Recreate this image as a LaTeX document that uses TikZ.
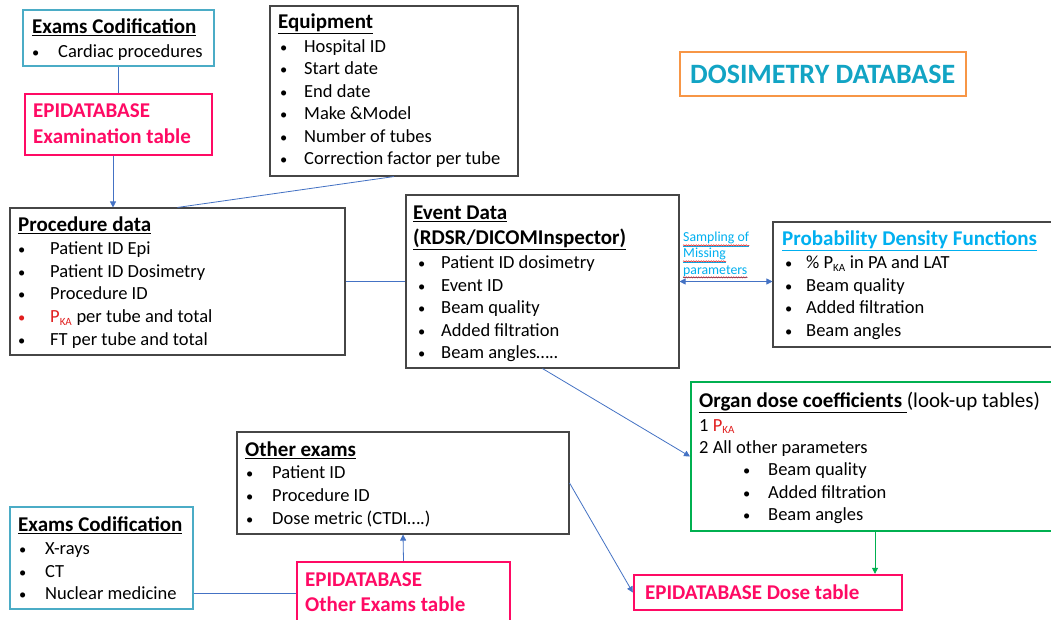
\documentclass[tikz,border=0pt]{standalone}
\usepackage{fontspec}
\setmainfont{Carlito}
\usetikzlibrary{arrows.meta,decorations.pathmorphing}
\definecolor{grayb}{RGB}{70,70,70}
\definecolor{cyanb}{RGB}{75,172,198}
\definecolor{pinkb}{RGB}{255,10,100}
\definecolor{orangeb}{RGB}{247,150,70}
\definecolor{greenb}{RGB}{0,176,80}
\definecolor{lineb}{RGB}{68,114,196}
\definecolor{pdft}{RGB}{0,176,240}
\definecolor{dosit}{RGB}{18,164,196}
\definecolor{redk}{RGB}{225,30,30}
\newcommand\bodyf{\fontsize{18.5}{22}\selectfont}
\newcommand\titf{\fontsize{21}{25}\selectfont\bfseries}
\newcommand\bul[2]{\makebox[#1][l]{\scalebox{0.78}{•}}#2}
\newcommand\pka{P\textsubscript{\fontsize{11}{11}\selectfont KA}}
\begin{document}
\begin{tikzpicture}[x=1pt,y=-1pt,
  ln/.style={anchor=base west,inner sep=0pt,font=\bodyf},
  tl/.style={anchor=base west,inner sep=0pt,font=\titf},
  box/.style={draw=grayb,line width=1.1pt,rectangle,inner sep=0pt},
  cbox/.style={draw=cyanb,line width=1.6pt,rectangle,inner sep=0pt},
  pbox/.style={draw=pinkb,line width=2.4pt,rectangle,inner sep=0pt},
  gbox/.style={draw=greenb,line width=2pt,rectangle,inner sep=0pt},
  obox/.style={draw=orangeb,line width=2.6pt,rectangle,inner sep=0pt},
  conn/.style={draw=lineb,line width=0.8pt},
  arr/.style={conn,-{Triangle[length=6pt,width=6pt]}},
  darr/.style={conn,{Triangle[length=6pt,width=6pt]}-{Triangle[length=6pt,width=6pt]}},
  garr/.style={draw=greenb,line width=0.8pt,-{Triangle[length=6pt,width=6pt]}},
  ptxt/.style={tl,text=pinkb},
  smp/.style={ln,font=\fontsize{13.8}{16}\selectfont,text=pdft},
  wavy/.style={redk,line width=0.5pt,decorate,decoration={snake,amplitude=0.6pt,segment length=2.5pt}}
]
\useasboundingbox (0,0) rectangle (1051,620);
\fill[white] (0,0) rectangle (1051,620);

% ---- boxes ----
\node[cbox,minimum width=191,minimum height=56] (ec1) at (118.5,38) {};
\node[pbox,minimum width=187,minimum height=61] (epi1) at (118.5,124.5) {};
\node[box,minimum width=248,minimum height=170] (equip) at (394,91) {};
\node[box,minimum width=335,minimum height=147] (proc) at (177.5,281.5) {};
\node[box,minimum width=273,minimum height=173] (event) at (542.5,281.5) {};
\node[box,minimum width=290,minimum height=125] (pdf) at (918,284.5) {};
\node[obox,minimum width=286,minimum height=44] (dosi) at (823,74) {};
\node[gbox,minimum width=370,minimum height=149] (organ) at (876,456.5) {};
\node[box,minimum width=332,minimum height=102] (other) at (403,483) {};
\node[cbox,minimum width=183,minimum height=102] (ec2) at (101.5,558) {};
\node[pbox,minimum width=213,minimum height=66] (otab) at (403.5,595) {};
\node[pbox,minimum width=268,minimum height=35] (dose) at (768,592.5) {};

% ---- texts ----
\node[tl] (ec1t) at (32,33.5) {\underline{Exams Codification}};
\node[ln] (ec1a) at (32,57.5) {\bul{26pt}{Cardiac procedures}};

\node[ptxt] (epi1a) at (33,118) {EPIDATABASE};
\node[ptxt] (epi1b) at (33,144) {Examination table};

\node[tl] (eqt) at (278,28.5) {\underline{Equipment}};
\node[ln] (eq1) at (280,52.5) {\bul{24pt}{Hospital ID}};
\node[ln] (eq2) at (280,75) {\bul{24pt}{Start date}};
\node[ln] (eq3) at (280,97.5) {\bul{24pt}{End date}};
\node[ln] (eq4) at (280,120) {\bul{24pt}{Make \&Model}};
\node[ln] (eq5) at (280,142.5) {\bul{24pt}{Number of tubes}};
\node[ln] (eq6) at (280,165) {\bul{24pt}{Correction factor per tube}};

\node[tl] (prt) at (18,231.5) {\underline{Procedure data}};
\node[ln] (pr1) at (18,254.5) {\bul{32pt}{Patient ID Epi}};
\node[ln] (pr2) at (18,277) {\bul{32pt}{Patient ID Dosimetry}};
\node[ln] (pr3) at (18,299.5) {\bul{32pt}{Procedure ID}};
\node[ln] (pr4) at (18,322.5) {\textcolor{redk}{\bul{32pt}{\pka}} per tube and total};
\node[ln] (pr5) at (18,345) {\bul{32pt}{FT per tube and total}};

\node[tl] (evt1) at (413,219.5) {\underline{Event Data}};
\node[tl] (evt2) at (413,244.5) {\underline{(RDSR/DICOMInspector)}};
\node[ln] (ev1) at (418,268.5) {\bul{23pt}{Patient ID dosimetry}};
\node[ln] (ev2) at (418,291) {\bul{23pt}{Event ID}};
\node[ln] (ev3) at (418,313.5) {\bul{23pt}{Beam quality}};
\node[ln] (ev4) at (418,336) {\bul{23pt}{Added filtration}};
\node[ln] (ev5) at (418,358.5) {\bul{23pt}{Beam angles…..}};

\node[tl,text=pdft] (pdft) at (782,245.5) {\underline{Probability Density Functions}};
\node[ln] (pd1) at (785,268.5) {\bul{21pt}{\% \pka{} in PA and LAT}};
\node[ln] (pd2) at (785,291) {\bul{21pt}{Beam quality}};
\node[ln] (pd3) at (785,313.5) {\bul{21pt}{Added filtration}};
\node[ln] (pd4) at (785,336) {\bul{21pt}{Beam angles}};

\node[smp] (s1) at (683,242) {\underline{Sampling of}};
\node[smp] (s2) at (683,258) {\underline{Missing}};
\node[smp] (s3) at (683,274) {\underline{parameters}};
\draw[wavy] ([yshift=-3.4pt]s1.base west) -- ([yshift=-3.4pt]s1.base east);
\draw[wavy] ([yshift=-3.4pt]s2.base west) -- ([yshift=-3.4pt]s2.base east);
\draw[wavy] ([yshift=-3.4pt]s3.base west) -- ([yshift=-3.4pt]s3.base east);

\node[ln,font=\fontsize{28}{32}\selectfont\bfseries,text=dosit] (dosit) at (690,83.5) {DOSIMETRY DATABASE};

\node[ln] (ort) at (699,407) {{\titf\underline{Organ dose coefficients\ }}{\fontsize{21}{25}\selectfont(look-up tables)}};
\node[ln] (or1) at (699,431) {1 \textcolor{redk}{\pka}};
\node[ln] (or2) at (699,453.5) {2 All other parameters};
\node[ln] (or3) at (743,475.5) {\bul{25pt}{Beam quality}};
\node[ln] (or4) at (743,498) {\bul{25pt}{Added filtration}};
\node[ln] (or5) at (743,520.5) {\bul{25pt}{Beam angles}};

\node[tl] (oxt) at (245,456.5) {\underline{Other exams}};
\node[ln] (ox1) at (246,478.5) {\bul{26pt}{Patient ID}};
\node[ln] (ox2) at (246,501.5) {\bul{26pt}{Procedure ID}};
\node[ln] (ox3) at (246,524.5) {\bul{26pt}{Dose metric (CTDI….)}};

\node[tl] (ec2t) at (18,531.5) {\underline{Exams Codification}};
\node[ln] (ec2a) at (19,554.5) {\bul{26pt}{X-rays}};
\node[ln] (ec2b) at (19,577) {\bul{26pt}{CT}};
\node[ln] (ec2c) at (19,599.5) {\bul{26pt}{Nuclear medicine}};

\node[ptxt] (ota) at (305,586.5) {EPIDATABASE};
\node[ptxt] (otb) at (305,611.5) {Other Exams table};

\node[ptxt] (dosea) at (645,599) {EPIDATABASE Dose table};

% ---- connectors ----
\coordinate (c113) at (113,0);
\coordinate (c875) at (875,0);
\draw[conn] (ec1.south) -- (epi1.north);
\draw[arr] (epi1.south -| c113) -- (proc.north -| c113);
\draw[conn] (equip.south) -- (proc.north);
\draw[conn] (proc.east) -- (event.west);
\draw[darr] (event.east) -- (pdf.west |- event.east);
\draw[arr] (event.south) -- (organ.west);
\draw[arr] (other.east) -- (dose.west);
\draw[garr] (organ.south -| c875) -- (dose.north -| c875);
\draw[arr] (otab.north) -- (other.south);
\draw[conn] (ec2.east |- ec2c.base) ++(0,-6) coordinate (ec2r) -- (otab.west |- ec2r);
\end{tikzpicture}
\end{document}
